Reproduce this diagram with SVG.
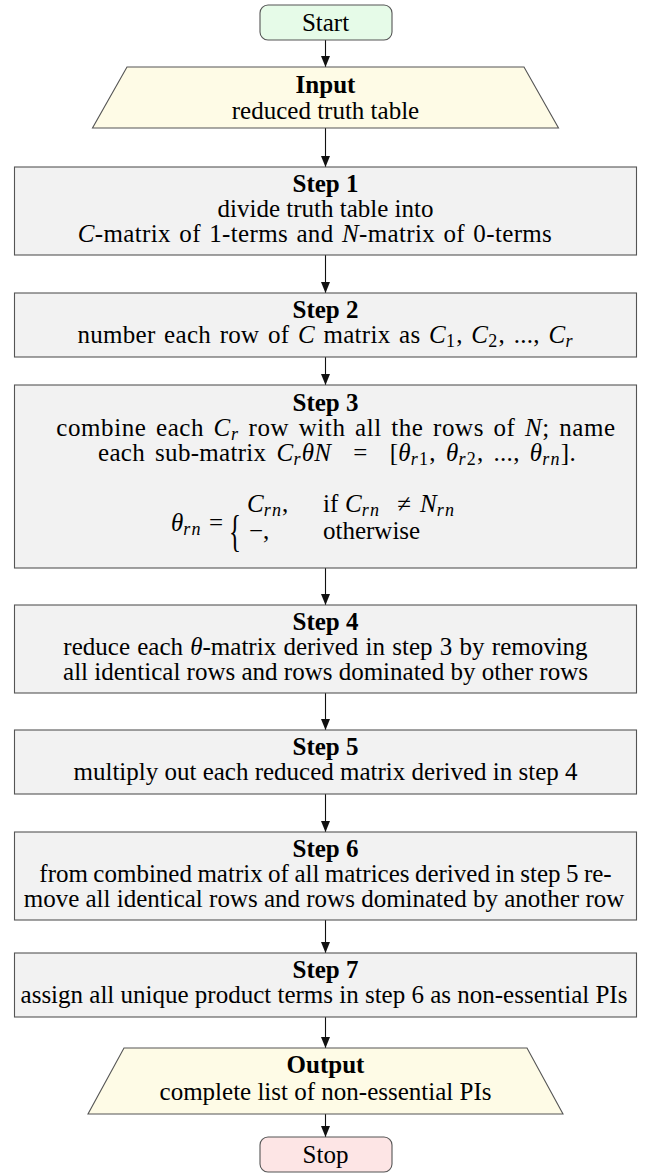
<svg xmlns="http://www.w3.org/2000/svg" width="645" height="1174" viewBox="0 0 645 1174" font-family="'Liberation Serif', 'Times New Roman', serif">
<defs>
<marker id="ah" markerUnits="userSpaceOnUse" markerWidth="12" markerHeight="9" refX="11" refY="4.5" orient="auto">
<path d="M0,0 L11,4.5 L0,9 z" fill="#111"/>
</marker>
<style>
.box{fill:#f2f2f2;stroke:#555;stroke-width:1.1}
.io{fill:#fefbe6;stroke:#555;stroke-width:1.1}
.go{fill:#e6fbe8;stroke:#555;stroke-width:1.1}
.st{fill:#fde5e5;stroke:#555;stroke-width:1.1}
.t{font-family:'Liberation Serif','Times New Roman',serif;font-size:25px;fill:#000;text-anchor:middle}
.l{text-anchor:start}
.b{font-weight:bold}
.i{font-style:italic}
.s{font-size:18px;font-style:italic;letter-spacing:1.2px}
.su{font-size:18px;letter-spacing:1.2px}
.cn{stroke:#111;stroke-width:1.1;fill:none;marker-end:url(#ah)}
</style>
</defs>
<g id="connectors">
<line class="cn" x1="325.5" y1="40" x2="325.5" y2="67"/>
<line class="cn" x1="325.5" y1="128" x2="325.5" y2="167"/>
<line class="cn" x1="325.5" y1="255" x2="325.5" y2="293"/>
<line class="cn" x1="325.5" y1="357" x2="325.5" y2="385"/>
<line class="cn" x1="325.5" y1="568" x2="325.5" y2="605"/>
<line class="cn" x1="325.5" y1="693" x2="325.5" y2="730"/>
<line class="cn" x1="325.5" y1="794" x2="325.5" y2="832"/>
<line class="cn" x1="325.5" y1="920" x2="325.5" y2="953"/>
<line class="cn" x1="325.5" y1="1017" x2="325.5" y2="1048"/>
<line class="cn" x1="325.5" y1="1114" x2="325.5" y2="1137"/>
</g>
<g id="start">
<rect class="go" x="260" y="5" width="132" height="35" rx="8"/>
<text class="t" x="325.5" y="31">Start</text>
</g>
<g id="input">
<polygon class="io" points="127,67 524,67 558.5,128 92.5,128"/>
<text class="t b" x="325.5" y="92.5">Input</text>
<text class="t" x="325.5" y="119">reduced truth table</text>
</g>
<g id="step1">
<rect class="box" x="14.5" y="167" width="622" height="88"/>
<text class="t b" x="325.5" y="192">Step 1</text>
<text class="t" x="325.5" y="217">divide truth table into</text>
<text class="t" x="315" y="242" word-spacing="1.8" letter-spacing="0.35"><tspan class="i">C</tspan>-matrix of 1-terms and <tspan class="i">N</tspan>-matrix of 0-terms</text>
</g>
<g id="step2">
<rect class="box" x="14.5" y="293" width="622" height="64"/>
<text class="t b" x="325.5" y="318">Step 2</text>
<text class="t" x="325.5" y="343" word-spacing="2" letter-spacing="0.3">number each row of <tspan class="i">C</tspan> matrix as <tspan class="i">C</tspan><tspan class="su" dy="4">1</tspan><tspan dy="-4">, </tspan><tspan class="i">C</tspan><tspan class="su" dy="4">2</tspan><tspan dy="-4">, ..., </tspan><tspan class="i">C</tspan><tspan class="s" dy="4">r</tspan></text>
</g>
<g id="step3">
<rect class="box" x="14.5" y="385" width="622" height="183"/>
<text class="t b" x="325.5" y="410.5">Step 3</text>
<text class="t" x="336" y="435.5" word-spacing="2.6" letter-spacing="0.6">combine each <tspan class="i">C</tspan><tspan class="s" dy="4">r</tspan><tspan dy="-4"> row with all the rows of </tspan><tspan class="i">N</tspan>; name</text>
<text class="t" x="337" y="460.5" word-spacing="3.5" letter-spacing="0.3">each sub-matrix <tspan class="i">C</tspan><tspan class="s" dy="4">r</tspan><tspan class="i" dy="-4">θN</tspan><tspan dx="22">=</tspan><tspan dx="22">[</tspan><tspan class="i">θ</tspan><tspan class="s" dy="4">r</tspan><tspan class="su">1</tspan><tspan dy="-4">, </tspan><tspan class="i">θ</tspan><tspan class="s" dy="4">r</tspan><tspan class="su">2</tspan><tspan dy="-4">, ..., </tspan><tspan class="i">θ</tspan><tspan class="s" dy="4">rn</tspan><tspan dy="-4">].</tspan></text>
<text class="t l" x="171" y="531"><tspan class="i">θ</tspan><tspan class="s" dy="4">rn</tspan></text>
<text class="t l" x="209" y="531">=</text>
<text class="t l" x="0" y="0" font-size="40" transform="translate(229,546) scale(1,1.8)">{</text>
<text class="t l" x="247" y="512"><tspan class="i">C</tspan><tspan class="s" dy="4">rn</tspan><tspan dy="-4">,</tspan></text>
<text class="t l" x="323" y="512">if</text>
<text class="t l" x="345" y="512"><tspan class="i">C</tspan><tspan class="s" dy="4">rn</tspan></text>
<text class="t" x="404" y="512">≠</text>
<text class="t l" x="420" y="512"><tspan class="i">N</tspan><tspan class="s" dy="4">rn</tspan></text>
<text class="t l" x="249" y="539">−,</text>
<text class="t l" x="323" y="539">otherwise</text>
</g>
<g id="step4">
<rect class="box" x="14.5" y="605" width="622" height="88"/>
<text class="t b" x="325.5" y="630">Step 4</text>
<text class="t" x="325.5" y="655" word-spacing="1">reduce each <tspan class="i">θ</tspan>-matrix derived in step 3 by removing</text>
<text class="t" x="325.5" y="680">all identical rows and rows dominated by other rows</text>
</g>
<g id="step5">
<rect class="box" x="14.5" y="730" width="622" height="64"/>
<text class="t b" x="325.5" y="755">Step 5</text>
<text class="t" x="325.5" y="780">multiply out each reduced matrix derived in step 4</text>
</g>
<g id="step6">
<rect class="box" x="14.5" y="832" width="622" height="88"/>
<text class="t b" x="325.5" y="857">Step 6</text>
<text class="t" x="325.5" y="882" word-spacing="-0.8">from combined matrix of all matrices derived in step 5 re-</text>
<text class="t" x="324" y="907">move all identical rows and rows dominated by another row</text>
</g>
<g id="step7">
<rect class="box" x="14.5" y="953" width="622" height="64"/>
<text class="t b" x="325.5" y="978">Step 7</text>
<text class="t" x="324" y="1003">assign all unique product terms in step 6 as non-essential PIs</text>
</g>
<g id="output">
<polygon class="io" points="124,1048 527,1048 563,1114 88,1114"/>
<text class="t b" x="325.5" y="1073">Output</text>
<text class="t" x="325.5" y="1100">complete list of non-essential PIs</text>
</g>
<g id="stop">
<rect class="st" x="260" y="1137" width="132" height="35" rx="8"/>
<text class="t" x="325.5" y="1162.5">Stop</text>
</g>
</svg>
